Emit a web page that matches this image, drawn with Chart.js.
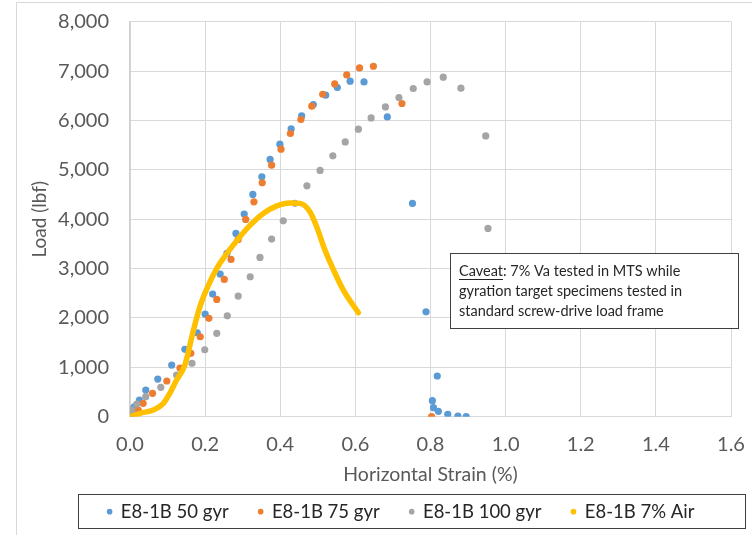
<!DOCTYPE html>
<html>
<head>
<meta charset="utf-8">
<script src="https://cdn.jsdelivr.net/npm/chart.js@4.4.0/dist/chart.umd.min.js"></script>
<style>
  html, body { margin: 0; padding: 0; background: #fff; }
</style>
</head>
<body>
<canvas id="myChart" width="752" height="535"></canvas>
<script>
// values
const strain50 = [0, 0.005, 0.011, 0.025, 0.042, 0.074, 0.111, 0.146, 0.179, 0.200, 0.220, 0.240, 0.258, 0.282, 0.304, 0.327, 0.351, 0.373, 0.399, 0.429, 0.457, 0.488, 0.521, 0.552, 0.586, 0.623, 0.685, 0.752, 0.788, 0.818, 0.805, 0.808, 0.821, 0.846, 0.873, 0.895];
const load50 = [0, 101, 202, 338, 540, 763, 1046, 1364, 1700, 2079, 2483, 2888, 3307, 3712, 4103, 4501, 4858, 5210, 5519, 5829, 6092, 6323, 6511, 6667, 6795, 6780, 6072, 4319, 2125, 824, 324, 182, 109, 49, 14, 0];

const strain75 = [0, 0.003, 0.022, 0.035, 0.060, 0.098, 0.133, 0.162, 0.187, 0.210, 0.231, 0.251, 0.269, 0.288, 0.308, 0.330, 0.352, 0.377, 0.402, 0.427, 0.455, 0.484, 0.513, 0.545, 0.577, 0.611, 0.648, 0.724, 0.803];
const load75 = [0, 55, 136, 271, 474, 723, 986, 1283, 1619, 1992, 2376, 2781, 3186, 3590, 3995, 4352, 4736, 5094, 5418, 5736, 6019, 6289, 6531, 6740, 6922, 7064, 7098, 6343, 0];

const strain100 = [0, 0.005, 0.018, 0.042, 0.082, 0.124, 0.165, 0.199, 0.231, 0.259, 0.288, 0.320, 0.346, 0.377, 0.408, 0.439, 0.471, 0.506, 0.540, 0.573, 0.608, 0.642, 0.680, 0.716, 0.754, 0.791, 0.834, 0.881, 0.947, 0.953];
const load100 = [0, 136, 257, 405, 595, 844, 1081, 1356, 1688, 2044, 2443, 2834, 3226, 3597, 3967, 4322, 4676, 4987, 5283, 5566, 5823, 6052, 6274, 6465, 6647, 6780, 6876, 6653, 5687, 3813];

const strainAir = [0, 0.027, 0.062, 0.089, 0.106, 0.124, 0.146, 0.169, 0.186, 0.209, 0.231, 0.258, 0.289, 0.320, 0.355, 0.391, 0.426, 0.453, 0.479, 0.497, 0.519, 0.542, 0.568, 0.608];
const loadAir = [0, 69, 136, 271, 474, 743, 1046, 1755, 2226, 2666, 3004, 3307, 3611, 3880, 4117, 4270, 4330, 4320, 4149, 3846, 3374, 2969, 2564, 2105];

const seriesNames = ['E8-1B 50 gyr', 'E8-1B 75 gyr', 'E8-1B 100 gyr', 'E8-1B 7% Air'];
const xTickLabels = ['0.0', '0.2', '0.4', '0.6', '0.8', '1.0', '1.2', '1.4', '1.6'];
const yTickLabels = ['0', '1,000', '2,000', '3,000', '4,000', '5,000', '6,000', '7,000', '8,000'];
const noteLines = ['Caveat', ': 7% Va tested in MTS while', 'gyration target specimens tested in', 'standard screw-drive load frame'];

const FONT = 'Lato, "Open Sans", sans-serif';
const PLOT_BOTTOM = 416.7;
const LEGEND_PAD = 30;
const LEGEND_FONT = 18.5;

function pairs(xs, ys) {
    return xs.map((x, i) => ({x: x, y: ys[i]}));
}

const decor = {
    id: 'decor',
    afterLayout(chart) {
        // place the legend row inside its frame
        const lg = chart.legend;
        lg.left = 17;
        lg.right = 785;
        lg.width = 768;
        lg.top = 511.7 - LEGEND_PAD - LEGEND_FONT / 2;
        lg.bottom = 535;
        lg.height = lg.bottom - lg.top;
    },
    afterDraw(chart) {
        const ctx = chart.ctx;
        ctx.save();
        // outer frame lines
        ctx.strokeStyle = '#d9d9d9';
        ctx.lineWidth = 1;
        ctx.beginPath();
        ctx.moveTo(16.5, 535);
        ctx.lineTo(16.5, 2.5);
        ctx.lineTo(752, 2.5);
        ctx.stroke();

        // legend frame
        ctx.strokeStyle = '#404040';
        ctx.strokeRect(78.5, 494.5, 667, 34);

        // caveat note
        ctx.fillStyle = '#fff';
        ctx.fillRect(450, 253, 288, 75);
        ctx.strokeStyle = '#404040';
        ctx.strokeRect(450.5, 253.5, 288, 75);
        ctx.fillStyle = '#262626';
        ctx.font = '14.5px ' + FONT;
        ctx.textBaseline = 'middle';
        const x0 = 459;
        ctx.fillText(noteLines[0], x0, 271);
        const w = ctx.measureText(noteLines[0]).width;
        ctx.fillRect(x0, 279, w, 1);
        ctx.fillText(noteLines[1], x0 + w, 271);
        ctx.fillText(noteLines[2], x0, 291);
        ctx.fillText(noteLines[3], x0, 311);
        ctx.restore();
    }
};

const myChartRef = document.getElementById('myChart').getContext('2d');
const myChart = new Chart(myChartRef, {
    type: 'scatter',
    data: {
        datasets: [
            {
                label: seriesNames[0],
                data: pairs(strain50, load50),
                backgroundColor: '#5B9BD5',
                borderColor: '#5B9BD5',
                pointRadius: 3.6,
                borderWidth: 0,
                order: 4
            },
            {
                label: seriesNames[1],
                data: pairs(strain75, load75),
                backgroundColor: '#ED7D31',
                borderColor: '#ED7D31',
                pointRadius: 3.6,
                borderWidth: 0,
                order: 3
            },
            {
                label: seriesNames[2],
                data: pairs(strain100, load100),
                backgroundColor: '#A5A5A5',
                borderColor: '#A5A5A5',
                pointRadius: 3.6,
                borderWidth: 0,
                order: 2
            },
            {
                label: seriesNames[3],
                data: pairs(strainAir, loadAir),
                showLine: true,
                backgroundColor: '#FFC000',
                borderColor: '#FFC000',
                borderWidth: 5.5,
                borderCapStyle: 'round',
                borderJoinStyle: 'round',
                cubicInterpolationMode: 'monotone',
                pointRadius: 0,
                pointBorderWidth: 0,
                order: 1
            }
        ]
    },
    options: {
        responsive: false,
        animation: false,
        devicePixelRatio: 1,
        layout: {
            padding: {top: 21.7, right: 21, bottom: 0, left: 0}
        },
        plugins: {
            tooltip: {enabled: false},
            legend: {
                position: 'bottom',
                maxHeight: 40,
                labels: {
                    usePointStyle: true,
                    boxWidth: 4,
                    boxHeight: 4,
                    padding: LEGEND_PAD,
                    color: '#262626',
                    font: {family: FONT, size: LEGEND_FONT},
                    sort: (a, b) => a.datasetIndex - b.datasetIndex
                }
            }
        },
        scales: {
            x: {
                type: 'linear',
                min: 0,
                max: 1.6,
                afterBuildTicks: (scale) => {
                    scale.ticks = xTickLabels.map((t) => ({value: parseFloat(t)}));
                },
                ticks: {
                    color: '#595959',
                    font: {family: FONT, size: 20},
                    padding: 16,
                    maxRotation: 0,
                    callback: (v, i) => xTickLabels[i]
                },
                grid: {color: '#d9d9d9', drawTicks: false},
                border: {color: '#d9d9d9'},
                title: {
                    display: true,
                    text: 'Horizontal Strain (%)',
                    color: '#595959',
                    font: {family: FONT, size: 19.5},
                    padding: {top: 4, bottom: 9}
                },
                afterFit: (scale) => {
                    const lgH = scale.chart.legend ? scale.chart.legend.height : 0;
                    scale.height = 535 - PLOT_BOTTOM - lgH;
                    scale.paddingLeft = 0;
                    scale.paddingRight = 0;
                }
            },
            y: {
                type: 'linear',
                min: 0,
                max: 8000,
                afterBuildTicks: (scale) => {
                    scale.ticks = yTickLabels.map((t, i) => ({value: i * 1000}));
                },
                ticks: {
                    color: '#595959',
                    font: {family: FONT, size: 20},
                    padding: 21,
                    callback: (v, i) => yTickLabels[i]
                },
                grid: {color: '#d9d9d9', drawTicks: false},
                border: {color: '#d0d0d0', width: 1.5},
                title: {
                    display: true,
                    text: 'Load (lbf)',
                    color: '#595959',
                    font: {family: FONT, size: 19},
                    padding: {top: 28, bottom: 0}
                },
                afterFit: (scale) => {
                    scale.width = 130;
                    scale.paddingTop = 0;
                    scale.paddingBottom = 0;
                }
            }
        }
    },
    plugins: [decor]
});
</script>
</body>
</html>
